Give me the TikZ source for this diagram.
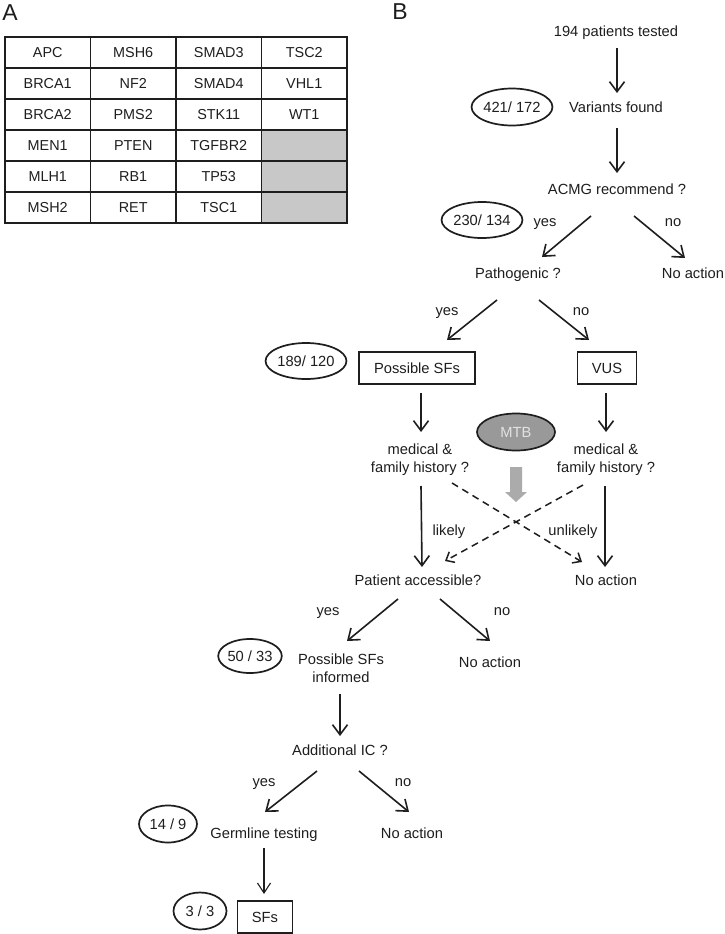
\documentclass[tikz,border=0pt]{standalone}
\usepackage{fontspec}
\setmainfont{Liberation Sans}
\usetikzlibrary{shapes.geometric,arrows.meta}
\definecolor{cellgray}{HTML}{C8C8C8}
\definecolor{mtbgray}{HTML}{999999}
\definecolor{mtbtext}{HTML}{E2E2E2}
\definecolor{bigarrow}{HTML}{ABABAB}
\definecolor{ink}{HTML}{1E1E1E}
\newcommand{\fsz}{\fontsize{14.7}{18}\selectfont}
\newcommand{\tsz}{\fontsize{14.4}{17}\selectfont}
\tikzset{
  txt/.style={inner sep=0pt, font=\fsz, align=center, text=ink, text height=10.5pt, text depth=3pt},
  cell/.style={draw=ink, line width=1.7pt, minimum width=85.5pt, minimum height=31pt, inner sep=0pt, font=\tsz, text=ink},
  graycell/.style={cell, fill=cellgray},
  ell/.style={draw=ink, ellipse, line width=1.7pt, inner sep=0pt, font=\fsz, text=ink},
  boxnode/.style={draw=ink, line width=1.7pt, minimum height=32pt, inner sep=0pt, font=\fsz, text=ink},
  arr/.style={draw=ink, line width=1.6pt, -{Straight Barb[length=10pt,width=15pt]}},
  thinarr/.style={draw=ink, line width=1.1pt, -{Straight Barb[length=10pt,width=13pt]}},
  dasharr/.style={draw=ink, line width=1.5pt, dash pattern=on 7pt off 5pt, -{Straight Barb[length=7pt,width=12pt]}},
  panel/.style={inner sep=0pt, font=\fontsize{23}{26}\selectfont, text=ink}
}
\begin{document}
\begin{tikzpicture}[x=1pt,y=-1pt]
\useasboundingbox (0,0) rectangle (724,934);
\fill[white] (0,0) rectangle (724,934);

% Panel labels
\node[panel] (labA) at (10,13) {A};
\node[panel] (labB) at (400,12) {B};

% Table
\node[cell] (c11) at (47.75,52.5) {APC};
\node[cell] (c12) at (133.25,52.5) {MSH6};
\node[cell] (c13) at (218.75,52.5) {SMAD3};
\node[cell] (c14) at (304.25,52.5) {TSC2};
\node[cell] (c21) at (47.75,83.5) {BRCA1};
\node[cell] (c22) at (133.25,83.5) {NF2};
\node[cell] (c23) at (218.75,83.5) {SMAD4};
\node[cell] (c24) at (304.25,83.5) {VHL1};
\node[cell] (c31) at (47.75,114.5) {BRCA2};
\node[cell] (c32) at (133.25,114.5) {PMS2};
\node[cell] (c33) at (218.75,114.5) {STK11};
\node[cell] (c34) at (304.25,114.5) {WT1};
\node[cell] (c41) at (47.75,145.5) {MEN1};
\node[cell] (c42) at (133.25,145.5) {PTEN};
\node[cell] (c43) at (218.75,145.5) {TGFBR2};
\node[graycell] (c44) at (304.25,145.5) {};
\node[cell] (c51) at (47.75,176.5) {MLH1};
\node[cell] (c52) at (133.25,176.5) {RB1};
\node[cell] (c53) at (218.75,176.5) {TP53};
\node[graycell] (c54) at (304.25,176.5) {};
\node[cell] (c61) at (47.75,207.5) {MSH2};
\node[cell] (c62) at (133.25,207.5) {RET};
\node[cell] (c63) at (218.75,207.5) {TSC1};
\node[graycell] (c64) at (304.25,207.5) {};

% Flowchart nodes
\node[txt] (t194) at (616,33) {194 patients tested};
\node[txt] (variants) at (616,109) {Variants found};
\node[ell, minimum width=80pt, minimum height=37pt] (e421) at (512,107) {421/ 172};
\node[txt] (acmg) at (617,191) {ACMG recommend ?};
\node[ell, minimum width=79pt, minimum height=36pt] (e230) at (482,220) {230/ 134};
\node[txt] (yes1) at (545,223) {yes};
\node[txt] (no1) at (673,223) {no};
\node[txt] (path) at (518,275) {Pathogenic ?};
\node[txt] (noact1) at (693,275) {No action};
\node[txt] (yes2) at (447,312) {yes};
\node[txt] (no2) at (581,312) {no};
\node[ell, minimum width=79pt, minimum height=36pt] (e189) at (306,361) {189/ 120};
\node[boxnode, minimum width=116pt] (psf) at (417,368) {Possible SFs};
\node[boxnode, minimum width=59pt] (vus) at (607,368) {VUS};
\node[ell, fill=mtbgray, text=mtbtext, minimum width=78pt, minimum height=37pt] (mtb) at (516,432) {MTB};
\node[inner sep=0pt, font=\fsz, align=center, text=ink] (mh1) at (420,460) {medical \&\\family history ?};
\node[inner sep=0pt, font=\fsz, align=center, text=ink] (mh2) at (606,460) {medical \&\\family history ?};
\node[txt] (likely) at (449,532) {likely};
\node[txt] (unlikely) at (573,532) {unlikely};
\node[txt] (acc) at (418,582) {Patient accessible?};
\node[txt] (noact2) at (606,582) {No action};
\node[txt] (yes3) at (328,612) {yes};
\node[txt] (no3) at (502,612) {no};
\node[ell, minimum width=62pt, minimum height=34pt] (e50) at (250,656) {50 / 33};
\node[inner sep=0pt, font=\fsz, align=center, text=ink] (psfi) at (341,668) {Possible SFs\\informed};
\node[txt] (noact3) at (490,664) {No action};
\node[txt] (addic) at (340,752) {Additional IC ?};
\node[txt] (yes4) at (264,783) {yes};
\node[txt] (no4) at (403,783) {no};
\node[ell, minimum width=58pt, minimum height=37pt] (e14) at (168,824) {14 / 9};
\node[txt] (germ) at (264,835) {Germline testing};
\node[txt] (noact4) at (412,835) {No action};
\node[ell, minimum width=53pt, minimum height=37pt] (e3) at (200,911) {3 / 3};
\node[boxnode, minimum width=55pt] (sfs) at (265,917) {SFs};

% Gray MTB arrow
\fill[bigarrow] ([shift={(-6,35)}]mtb.center) -- ([shift={(6,35)}]mtb.center)
  -- ([shift={(6,60)}]mtb.center) -- ([shift={(11,60)}]mtb.center)
  -- ([shift={(0,70)}]mtb.center) -- ([shift={(-11,60)}]mtb.center)
  -- ([shift={(-6,60)}]mtb.center) -- cycle;

% Connectors
\draw[arr] ([shift={(1,15)}]t194.center) -- ([shift={(1,-16)}]variants.center);
\draw[arr] ([shift={(1,19)}]variants.center) -- ([shift={(0,-18)}]acmg.center);
\draw[arr] ([shift={(-26,25)}]acmg.center) -- ([shift={(24,-18)}]path.center);
\draw[arr] ([shift={(17,25)}]acmg.center) -- ([shift={(-8,-17)}]noact1.center);
\draw[arr] ([shift={(-21,25)}]path.center) -- ([shift={(30,-28)}]psf.center);
\draw[arr] ([shift={(21,25)}]path.center) -- ([shift={(-18,-28)}]vus.center);
\draw[arr] ([shift={(4,25)}]psf.center) -- ([shift={(1,-28)}]mh1.center);
\draw[arr] ([shift={(-1,25)}]vus.center) -- ([shift={(0,-28)}]mh2.center);
\draw[arr] ([shift={(1,26)}]mh1.center) -- ([shift={(4,-15)}]acc.center);
\draw[arr] ([shift={(-1,26)}]mh2.center) -- ([shift={(-1,-15)}]noact2.center);
\draw[dasharr] ([shift={(32,23)}]mh1.center) -- ([shift={(-24,-20)}]noact2.center);
\draw[dasharr] ([shift={(-23,25)}]mh2.center) -- ([shift={(27,-21)}]acc.center);
\draw[arr] ([shift={(-20,17)}]acc.center) -- ([shift={(6,-27)}]psfi.center);
\draw[arr] ([shift={(22,17)}]acc.center) -- ([shift={(0,-23)}]noact3.center);
\draw[arr] ([shift={(-1,26)}]psfi.center) -- ([shift={(0,-16)}]addic.center);
\draw[arr] ([shift={(-23,19)}]addic.center) -- ([shift={(1,-23)}]germ.center);
\draw[arr] ([shift={(19,19)}]addic.center) -- ([shift={(-3,-23)}]noact4.center);
\draw[thinarr] ([shift={(0,13)}]germ.center) -- ([shift={(-1,-23)}]sfs.center);
\end{tikzpicture}
\end{document}
